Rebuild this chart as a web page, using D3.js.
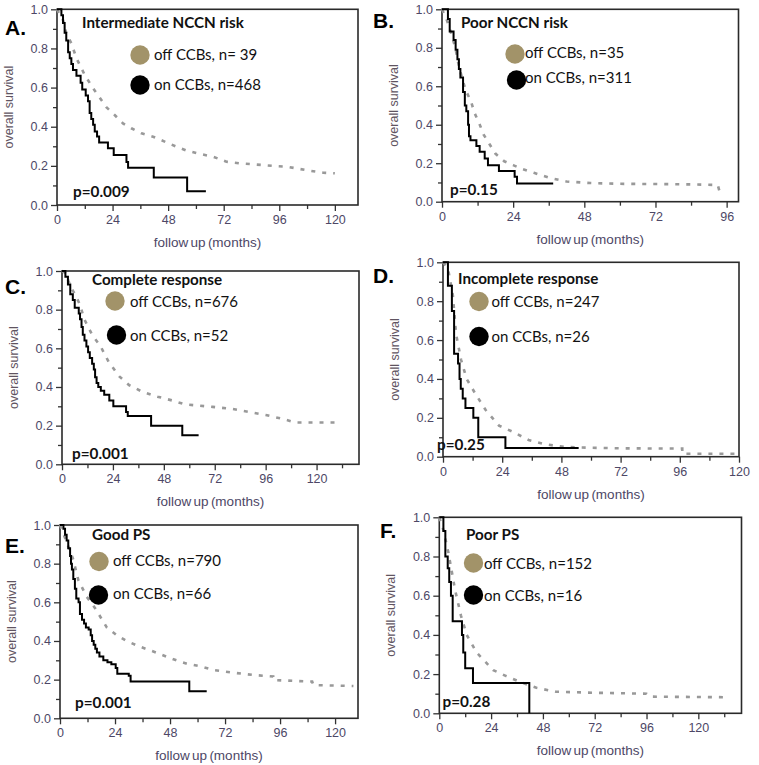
<!DOCTYPE html>
<html><head><meta charset="utf-8">
<script src="https://cdn.jsdelivr.net/npm/d3@7"></script>
<style>
body{margin:0;background:#fff;}
svg{display:block;}
</style></head>
<body>
<svg id="c" width="759" height="765"></svg>
<script>
// ---------- DATA ----------
const panelLetters = ["A.", "B.", "C.", "D.", "E.", "F."];
const panelTitles = ["Intermediate NCCN risk", "Poor NCCN risk", "Complete response", "Incomplete response", "Good PS", "Poor PS"];
const offLabels = ["off CCBs, n= 39", "off CCBs, n=35", "off CCBs, n=676", "off CCBs, n=247", "off CCBs, n=790", "off CCBs, n=152"];
const onLabels = ["on CCBs, n=468", "on CCBs, n=311", "on CCBs, n=52", "on CCBs, n=26", "on CCBs, n=66", "on CCBs, n=16"];
const pValues = ["p=0.009", "p=0.15", "p=0.001", "p=0.25", "p=0.001", "p=0.28"];
const xMax = [130, 100, 140, 120, 130, 140];
const xTickLabels = [[0,24,48,72,96,120],[0,24,48,72,96],[0,24,48,72,96,120],[0,24,48,72,96,120],[0,24,48,72,96,120],[0,24,48,72,96,120]];
const yTickLabels = [0.0, 0.2, 0.4, 0.6, 0.8, 1.0];
const xAxisTitle = "follow up (months)";
const yAxisTitle = "overall survival";

// on CCBs (solid black, Kaplan-Meier steps): time (months), survival
const onTimeA = [0,1.9,2.6,3.3,4.0,4.8,5.5,6.2,6.9,8.4,10.2,10.9,12.4,13.4,14.1,14.8,15.6,16.3,17.3,18.2,22.0,24.5,30.0,30.7,41.8,56.2,64.3];
const onSurvA = [1,0.97,0.93,0.88,0.84,0.78,0.75,0.72,0.69,0.66,0.625,0.59,0.56,0.53,0.47,0.44,0.41,0.375,0.35,0.32,0.29,0.255,0.22,0.19,0.14,0.07,0.07];
const onTimeB = [0,2.0,2.6,3.9,4.6,5.2,5.7,6.2,7.1,7.7,8.2,8.8,9.1,9.6,11.6,12.7,14.4,15.5,19.2,24.5,25.3,37.5];
const onSurvB = [1,0.95,0.885,0.84,0.79,0.74,0.69,0.645,0.57,0.50,0.47,0.40,0.34,0.32,0.29,0.26,0.225,0.19,0.16,0.13,0.095,0.095];
const onTimeC = [0,1.6,2.8,3.9,5.1,6.0,7.9,8.5,9.2,9.8,10.6,11.5,12.3,13.1,14.2,15.0,15.6,16.3,17.1,18.3,19.9,22.3,24.2,30.2,31.0,42.0,56.7,64.4];
const onSurvC = [1,0.97,0.93,0.88,0.85,0.81,0.78,0.75,0.71,0.67,0.64,0.61,0.58,0.55,0.52,0.49,0.45,0.42,0.40,0.38,0.36,0.33,0.30,0.27,0.25,0.20,0.15,0.15];
const onTimeD = [0,2.0,3.6,4.5,6.1,6.7,7.2,8.0,9.1,12.3,14.3,25.3,55.0];
const onSurvD = [1,0.88,0.75,0.53,0.48,0.40,0.35,0.30,0.25,0.20,0.10,0.045,0.045];
const onTimeE = [0,1.5,2.2,2.9,3.6,4.4,4.8,5.2,5.8,6.5,7.1,8.1,8.7,9.6,10.5,11.3,12.5,13.4,14.0,14.7,15.4,16.1,17.2,18.9,20.7,22.4,24.3,25.0,30.0,30.8,56.4,64.0];
const onSurvE = [1,0.98,0.95,0.92,0.88,0.84,0.80,0.77,0.72,0.67,0.62,0.60,0.54,0.51,0.49,0.47,0.46,0.43,0.40,0.38,0.36,0.34,0.32,0.30,0.29,0.28,0.26,0.23,0.22,0.19,0.14,0.14];
const onTimeF = [0,1.9,2.8,3.9,4.6,5.4,6.2,10.5,11.1,12.0,15.6,41.7];
const onSurvF = [1,0.93,0.80,0.74,0.67,0.60,0.47,0.40,0.31,0.23,0.155,0.0];

// off CCBs (dashed grey): time (months), survival
const offTimeA = [0,2.6,4.0,6.2,8.4,12.0,15.6,21.3,24.9,28.5,32.1,36.5,41.5,46.5,51.6,55.9,61.7,67.4,73.2,79.0,84.7,94.1,99.1,109.2,115,120];
const offSurvA = [1,0.945,0.877,0.826,0.75,0.664,0.596,0.50,0.46,0.417,0.392,0.366,0.349,0.324,0.298,0.278,0.261,0.247,0.221,0.213,0.208,0.199,0.196,0.175,0.165,0.162];
const offTimeB = [0,1.5,3,4.5,5.5,6.8,8,9.8,11,12.5,14,16,18,21,24,27,31,36,42,50,60,72,84,93,93.8];
const offSurvB = [1,0.95,0.88,0.80,0.72,0.64,0.58,0.52,0.46,0.41,0.35,0.30,0.25,0.21,0.19,0.17,0.15,0.125,0.105,0.097,0.093,0.092,0.09,0.087,0.043];
const offTimeC = [0,1.6,3,4.5,6.3,8.7,10.3,14.2,18.2,22,27,31.6,37.9,45,52,58,71,80.5,96,104,110,131];
const offSurvC = [1,0.99,0.95,0.91,0.876,0.82,0.755,0.67,0.61,0.53,0.455,0.41,0.375,0.35,0.33,0.31,0.297,0.286,0.255,0.235,0.216,0.216];
const offTimeD = [0,2,4,5.3,7.3,9.6,13.3,17.3,22.7,28,34.7,41.3,49.3,60,73,92,97,97,120];
const offSurvD = [1,0.97,0.83,0.63,0.50,0.40,0.32,0.24,0.16,0.13,0.086,0.064,0.05,0.046,0.043,0.042,0.042,0.015,0.015];
const offTimeE = [0,1,3.6,5.8,8,11.6,15.3,20.4,24.7,29,35,42,49.5,55,61,67,75.6,84.4,93,93,99,110,110.5,128];
const offSurvE = [1,0.97,0.89,0.82,0.715,0.63,0.57,0.47,0.43,0.40,0.37,0.34,0.305,0.284,0.27,0.25,0.236,0.224,0.216,0.198,0.195,0.19,0.172,0.167];
const offTimeF = [0,1.9,4.2,7.3,10,12.7,17.3,25,31,37.4,45,54,71,96,97.6,133];
const offSurvF = [1,0.935,0.82,0.63,0.50,0.40,0.31,0.22,0.19,0.16,0.13,0.11,0.105,0.10,0.085,0.082];

const onTimes = [onTimeA,onTimeB,onTimeC,onTimeD,onTimeE,onTimeF];
const onSurvs = [onSurvA,onSurvB,onSurvC,onSurvD,onSurvE,onSurvF];
const offTimes = [offTimeA,offTimeB,offTimeC,offTimeD,offTimeE,offTimeF];
const offSurvs = [offSurvA,offSurvB,offSurvC,offSurvD,offSurvE,offSurvF];

// ---------- LAYOUT (pixels) ----------
const boxes = [
  {x0:57,  x1:358,   yTop:9.3,   yBot:205,   letter:[5,35],    title:[82,28],    c1:[140,55],  c2:[140,85],  t1:[154,60],   t2:[154,90],   p:[73,197]},
  {x0:442, x1:738.5, yTop:9.3,   yBot:201.7, letter:[373,28],  title:[461,28],   c1:[515,54],  c2:[516.5,80],t1:[525,58],   t2:[525,82.5], p:[450,195]},
  {x0:62,  x1:359,   yTop:271,   yBot:464.3, letter:[5,294],   title:[92,285],   c1:[115,301], c2:[116.5,335],t1:[130,307], t2:[130,341],  p:[72,459]},
  {x0:443, x1:739,   yTop:262.3, yBot:456.7, letter:[373,283], title:[458,284],  c1:[479,301.5],c2:[479,336.5],t1:[491.5,307],t2:[491.5,342],p:[437,450]},
  {x0:60,  x1:358,   yTop:525,   yBot:718.3, letter:[5,553],   title:[92,539.5], c1:[99,561.5],c2:[98.5,595], t1:[113,565.5],t2:[113,599], p:[75,708]},
  {x0:439.3,x1:741.5,yTop:517.3, yBot:713.3, letter:[380,538], title:[466,539.5],c1:[473.5,563],c2:[473.5,595],t1:[484,568.5],t2:[484,600.5],p:[442.5,706.5]}
];

const svg = d3.select("#c");
const tickColor = "#4d4766";
const goldColor = "#a29369";

boxes.forEach((b, i) => {
  const x = d3.scaleLinear().domain([0, xMax[i]]).range([b.x0, b.x1]);
  const y = d3.scaleLinear().domain([0, 1]).range([b.yBot, b.yTop]);
  const g = svg.append("g");

  // minor ticks
  const xMinor = d3.range(12, xMax[i] + 0.01, 24);
  const xAxisMinor = d3.axisBottom(x).tickValues(xMinor).tickSize(4).tickFormat("");
  g.append("g").attr("transform", `translate(0,${b.yBot})`).call(xAxisMinor)
    .call(s => s.select(".domain").remove())
    .call(s => s.selectAll("line").attr("stroke", "#333").attr("stroke-width", 1.3));
  const yAxisMinor = d3.axisLeft(y).tickValues([0.1,0.3,0.5,0.7,0.9]).tickSize(4).tickFormat("");
  g.append("g").attr("transform", `translate(${b.x0},0)`).call(yAxisMinor)
    .call(s => s.select(".domain").remove())
    .call(s => s.selectAll("line").attr("stroke", "#333").attr("stroke-width", 1.3));

  // major axes
  const xAxis = d3.axisBottom(x).tickValues(xTickLabels[i]).tickSize(6).tickPadding(4).tickFormat(d3.format("d"));
  g.append("g").attr("transform", `translate(0,${b.yBot})`).call(xAxis)
    .call(s => s.select(".domain").remove())
    .call(s => s.selectAll("line").attr("stroke", "#333").attr("stroke-width", 1.3))
    .call(s => s.selectAll("text").attr("fill", tickColor).attr("font-family", "Liberation Sans, Arial, sans-serif").attr("font-size", 12.5));
  const yAxis = d3.axisLeft(y).tickValues(yTickLabels).tickSize(6).tickPadding(3).tickFormat(d3.format(".1f"));
  g.append("g").attr("transform", `translate(${b.x0},0)`).call(yAxis)
    .call(s => s.select(".domain").remove())
    .call(s => s.selectAll("line").attr("stroke", "#333").attr("stroke-width", 1.3))
    .call(s => s.selectAll("text").attr("fill", tickColor).attr("font-family", "Liberation Sans, Arial, sans-serif").attr("font-size", 12.5));

  // frame
  g.append("rect").attr("x", b.x0).attr("y", b.yTop).attr("width", b.x1 - b.x0).attr("height", b.yBot - b.yTop)
    .attr("fill", "none").attr("stroke", "#2a2a2a").attr("stroke-width", 1.6);

  // axis titles
  g.append("text").attr("x", (b.x0 + b.x1) / 2).attr("y", b.yBot + 42).attr("text-anchor", "middle")
    .attr("fill", tickColor).attr("font-family", "Liberation Sans, Arial, sans-serif").attr("font-size", 13.5)
    .attr("word-spacing", -1.5).text(xAxisTitle);
  g.append("text").attr("transform", `translate(${b.x0 - 44},${(b.yTop + b.yBot) / 2}) rotate(-90)`)
    .attr("text-anchor", "middle").attr("fill", "#5f5461")
    .attr("font-family", "Liberation Sans, Arial, sans-serif").attr("font-size", 12.5).text(yAxisTitle);

  // curves
  const offData = offTimes[i].map((t, k) => [t, offSurvs[i][k]]);
  const onData = onTimes[i].map((t, k) => [t, onSurvs[i][k]]);
  const lineLin = d3.line().x(d => x(d[0])).y(d => y(d[1])).curve(d3.curveLinear);
  const lineStep = d3.line().x(d => x(d[0])).y(d => y(d[1])).curve(d3.curveStepAfter);
  g.append("path").attr("d", lineLin(offData)).attr("fill", "none").attr("stroke", "#999")
    .attr("stroke-width", 2.6).attr("stroke-dasharray", "4,7");
  g.append("path").attr("d", lineStep(onData)).attr("fill", "none").attr("stroke", "#000")
    .attr("stroke-width", 2);

  // panel letter
  g.append("text").attr("x", b.letter[0]).attr("y", b.letter[1]).attr("font-family", "Liberation Sans, Arial, sans-serif")
    .attr("font-weight", "bold").attr("font-size", 21).attr("fill", "#000").text(panelLetters[i]);
  // title
  g.append("text").attr("x", b.title[0]).attr("y", b.title[1]).attr("font-family", "Lato, sans-serif")
    .attr("font-weight", "bold").attr("font-size", 15.2).attr("fill", "#111").text(panelTitles[i]);
  // legend
  g.append("circle").attr("cx", b.c1[0]).attr("cy", b.c1[1]).attr("r", 9.7).attr("fill", goldColor);
  g.append("circle").attr("cx", b.c2[0]).attr("cy", b.c2[1]).attr("r", 9.7).attr("fill", "#000");
  g.append("text").attr("x", b.t1[0]).attr("y", b.t1[1]).attr("font-family", "Lato, sans-serif")
    .attr("font-size", 15).attr("fill", "#111").text(offLabels[i]);
  g.append("text").attr("x", b.t2[0]).attr("y", b.t2[1]).attr("font-family", "Lato, sans-serif")
    .attr("font-size", 15).attr("fill", "#111").text(onLabels[i]);
  // p value
  g.append("text").attr("x", b.p[0]).attr("y", b.p[1]).attr("font-family", "Lato, sans-serif")
    .attr("font-weight", "bold").attr("font-size", 15.3).attr("fill", "#111").text(pValues[i]);
});
</script>
</body></html>
